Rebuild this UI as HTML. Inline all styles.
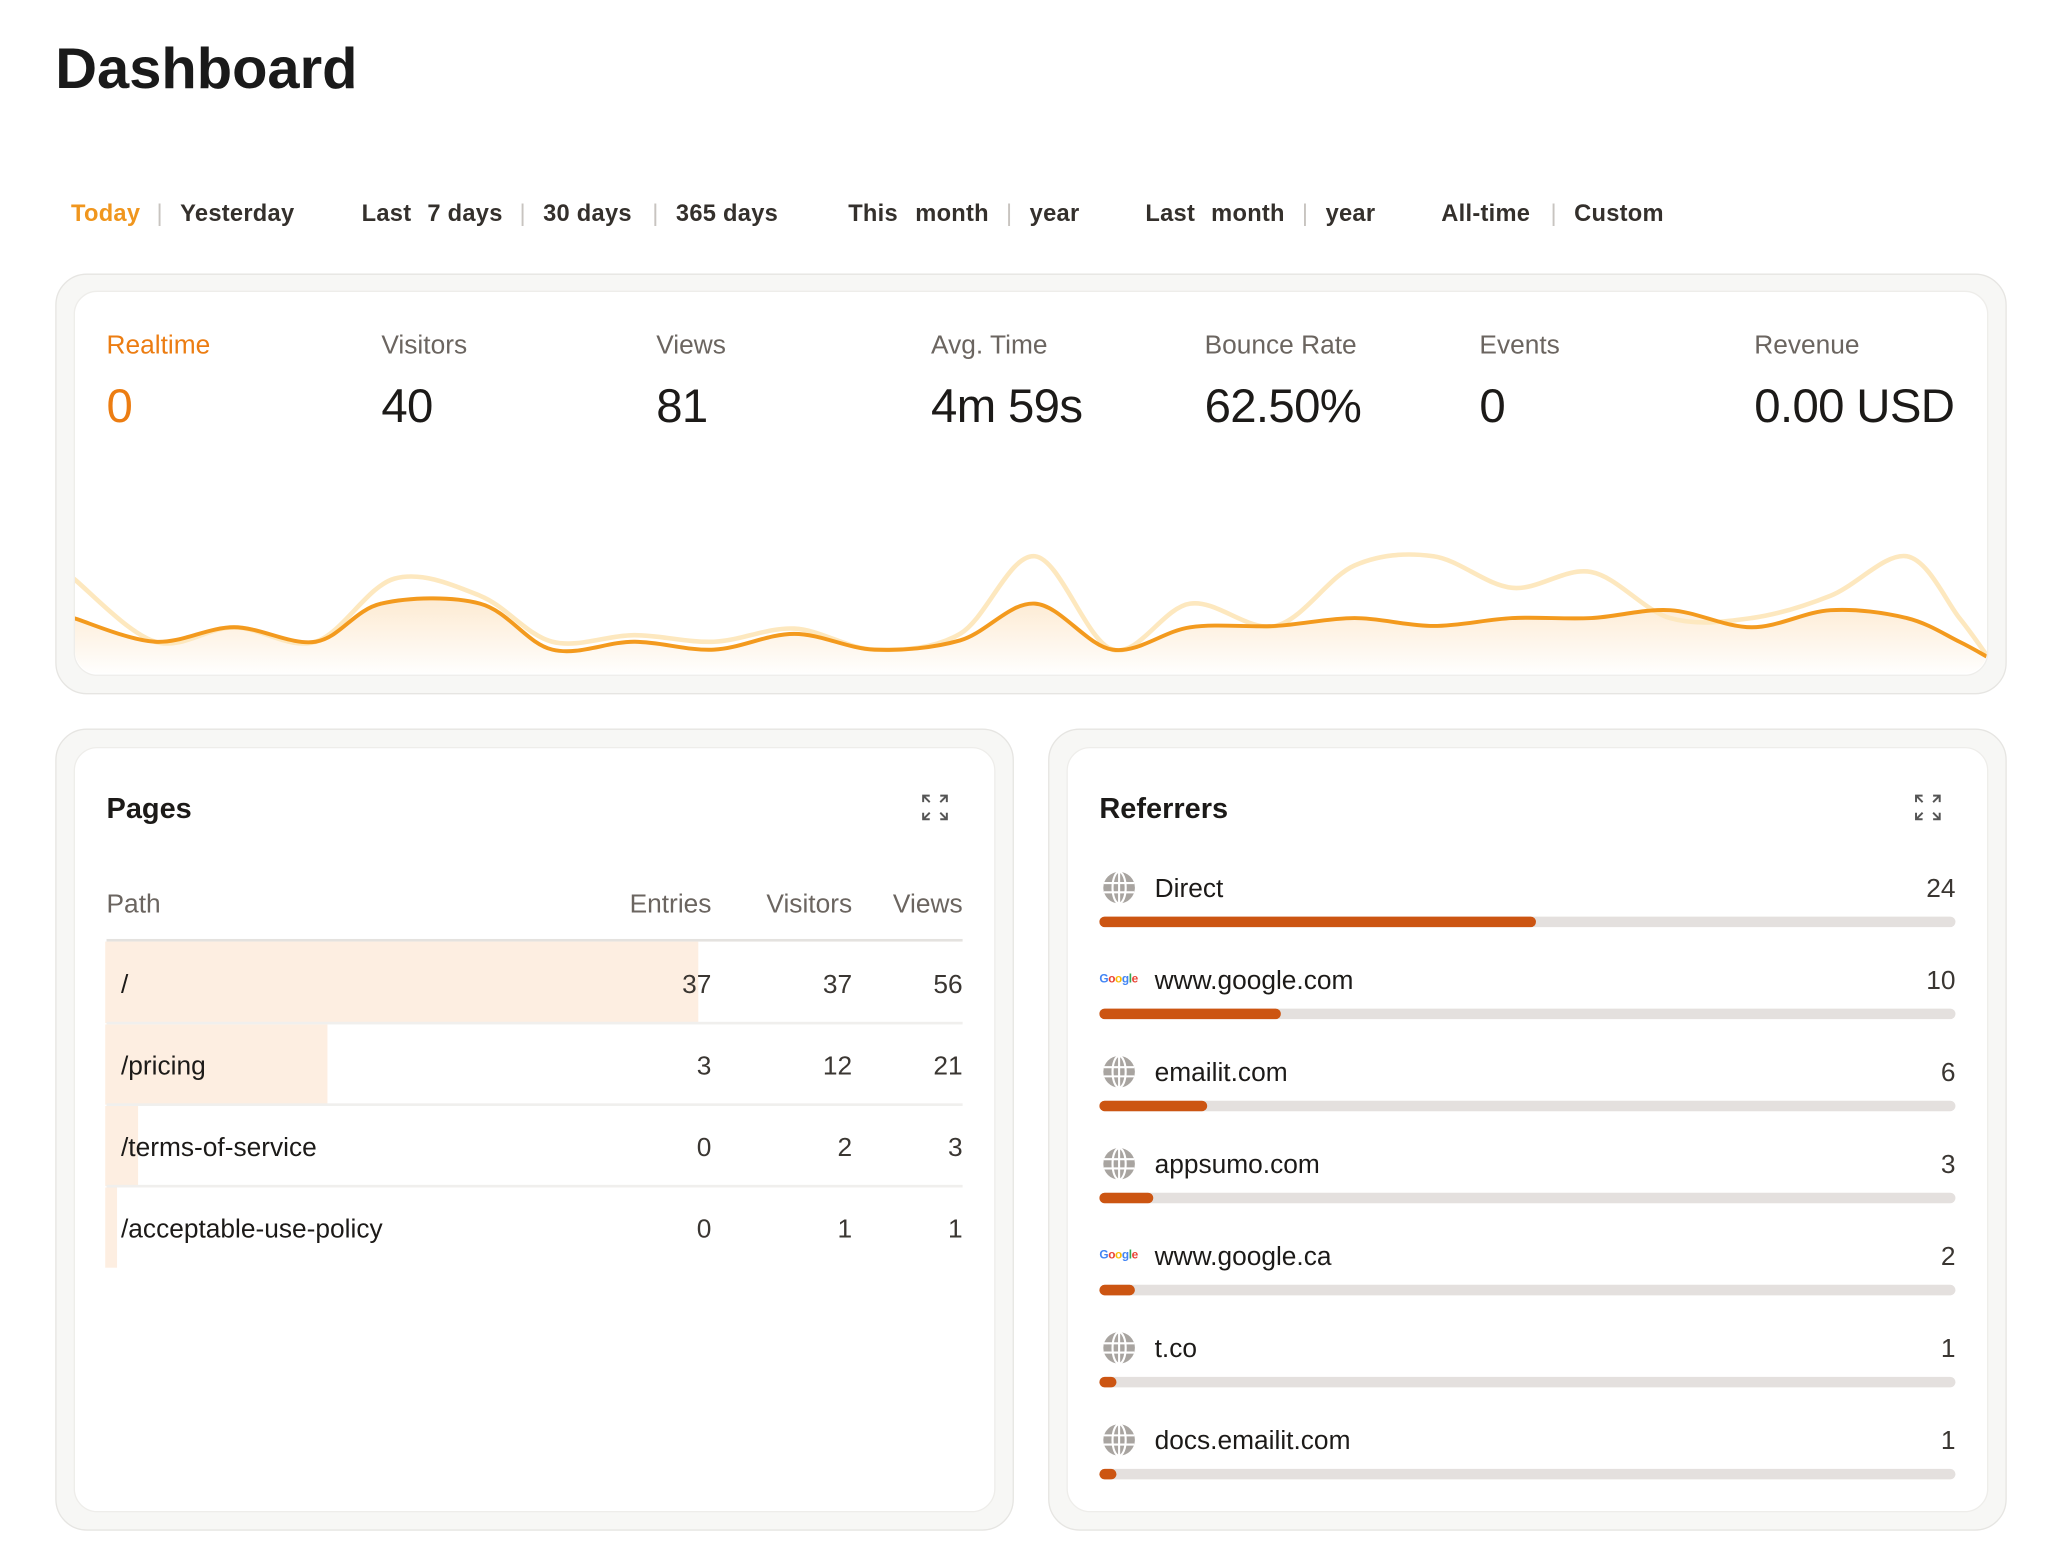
<!DOCTYPE html>
<html><head><meta charset="utf-8">
<style>
html,body{margin:0;padding:0;background:#fff;width:2062px;height:1564px;overflow:hidden}
#w{position:absolute;left:0;top:0;width:1568px;height:1190px;transform:scale(1.31505);transform-origin:0 0;font-family:"Liberation Sans",sans-serif;color:#1c1a18}
.a{position:absolute;white-space:nowrap}
.tab{position:absolute;top:152px;font-size:18px;font-weight:bold;color:#34302c;letter-spacing:0.2px}
.sep{color:#c8c4c0;font-weight:normal}
.outer{position:absolute;background:#f7f7f5;border:1.5px solid #e6e5e2;border-radius:24px}
.inner{position:absolute;background:#fff;border:1.5px solid #eeedea;border-radius:18px}
.lab{position:absolute;top:252px;font-size:20px;color:#6b6560}
.val{position:absolute;top:288px;font-size:36px;color:#1c1a18;letter-spacing:-0.5px}
.th{position:absolute;top:677px;font-size:20px;color:#6b6560}
.td{position:absolute;font-size:20px;color:#3a3632}
.tp{position:absolute;font-size:20px;color:#1c1a18;left:92px}
.rn{position:absolute;left:878px;font-size:20px;color:#1c1a18}
.rc{position:absolute;right:81px;font-size:20px;color:#3a3632}
.bar{position:absolute;left:836px;width:651px;height:8px;border-radius:4px;background:#e4e0de}
.bar i{position:absolute;left:0;top:0;height:8px;border-radius:4px;background:#cc5512}
.g{position:absolute;left:836px;font-size:9px;font-weight:bold;letter-spacing:-0.3px}
</style></head><body><div id="w">
<div class="a" style="left:42px;top:28px;font-size:44px;font-weight:bold;color:#1a1a1a">Dashboard</div>

<div class="tab" style="left:54px;color:#f0961e">Today</div>
<div class="tab sep" style="left:119px">|</div>
<div class="tab" style="left:137px">Yesterday</div>
<div class="tab" style="left:275px">Last</div>
<div class="tab" style="left:325px">7 days</div>
<div class="tab sep" style="left:395px">|</div>
<div class="tab" style="left:413px">30 days</div>
<div class="tab sep" style="left:496px">|</div>
<div class="tab" style="left:514px">365 days</div>
<div class="tab" style="left:645px">This</div>
<div class="tab" style="left:696px">month</div>
<div class="tab sep" style="left:765px">|</div>
<div class="tab" style="left:783px">year</div>
<div class="tab" style="left:871px">Last</div>
<div class="tab" style="left:921px">month</div>
<div class="tab sep" style="left:990px">|</div>
<div class="tab" style="left:1008px">year</div>
<div class="tab" style="left:1096px">All-time</div>
<div class="tab sep" style="left:1179px">|</div>
<div class="tab" style="left:1197px">Custom</div>

<div class="outer" style="left:42px;top:208px;width:1482px;height:318px"></div>
<div class="inner" style="left:56px;top:221px;width:1454px;height:291px"></div>
<svg id="ch" width="1568" height="1190" style="position:absolute;left:0;top:0" viewBox="0 0 1568 1190">
<defs><linearGradient id="gr" x1="0" y1="0" x2="0" y2="1"><stop offset="0" stop-color="#f5a030" stop-opacity="0.22"/><stop offset="1" stop-color="#f5a030" stop-opacity="0"/></linearGradient>
<clipPath id="cp"><rect x="57" y="222" width="1454" height="290" rx="17"/></clipPath></defs>
<g clip-path="url(#cp)">
<path id="fa" fill="url(#gr)" stroke="none"/>
<path id="lv" fill="none" stroke="#fde8bf" stroke-width="3.5"/>
<path id="dv" fill="none" stroke="#f39a1e" stroke-width="3"/>
</g>
</svg>

<div class="lab" style="left:81px;color:#ec7d12">Realtime</div>
<div class="lab" style="left:290px">Visitors</div>
<div class="lab" style="left:499px">Views</div>
<div class="lab" style="left:708px">Avg. Time</div>
<div class="lab" style="left:916px">Bounce Rate</div>
<div class="lab" style="left:1125px">Events</div>
<div class="lab" style="left:1334px">Revenue</div>
<div class="val" style="left:81px;color:#ec7d12">0</div>
<div class="val" style="left:290px">40</div>
<div class="val" style="left:499px">81</div>
<div class="val" style="left:708px">4m 59s</div>
<div class="val" style="left:916px">62.50%</div>
<div class="val" style="left:1125px">0</div>
<div class="val" style="left:1334px">0.00 USD</div>

<!-- Pages -->
<div class="outer" style="left:42px;top:554px;width:727px;height:608px"></div>
<div class="inner" style="left:56px;top:568px;width:699px;height:580px"></div>
<div class="a" style="left:81px;top:602px;font-size:22px;font-weight:bold">Pages</div>
<svg class="a" style="left:700px;top:603px" width="22" height="22" viewBox="0 0 22 22" fill="none" stroke="#555" stroke-width="1.5"><path d="M2 7V2h5M2 2l5 5M15 2h5v5M20 2l-5 5M2 15v5h5M2 20l5-5M20 15v5h-5M20 20l-5-5"/></svg>
<div class="th" style="left:81px">Path</div>
<div class="th" style="right:1027px">Entries</div>
<div class="th" style="right:920px">Visitors</div>
<div class="th" style="right:836px">Views</div>
<div class="a" style="left:81px;top:714px;width:651px;height:2px;background:#e4e2df"></div>
<div class="a" style="left:80px;top:716px;width:451px;height:62px;background:#fdeee1"></div>
<div class="a" style="left:80px;top:779px;width:169px;height:61px;background:#fdeee1"></div>
<div class="a" style="left:80px;top:841px;width:25px;height:61px;background:#fdeee1"></div>
<div class="a" style="left:80px;top:903px;width:9px;height:61px;background:#fdeee1"></div>
<div class="a" style="left:81px;top:777px;width:651px;height:1.5px;background:#f0efed"></div>
<div class="a" style="left:81px;top:839px;width:651px;height:1.5px;background:#f0efed"></div>
<div class="a" style="left:81px;top:901px;width:651px;height:1.5px;background:#f0efed"></div>
<div class="tp" style="top:738px">/</div>
<div class="tp" style="top:800px">/pricing</div>
<div class="tp" style="top:862px">/terms-of-service</div>
<div class="tp" style="top:924px">/acceptable-use-policy</div>
<div class="td" style="top:738px;right:1027px">37</div><div class="td" style="top:738px;right:920px">37</div><div class="td" style="top:738px;right:836px">56</div>
<div class="td" style="top:800px;right:1027px">3</div><div class="td" style="top:800px;right:920px">12</div><div class="td" style="top:800px;right:836px">21</div>
<div class="td" style="top:862px;right:1027px">0</div><div class="td" style="top:862px;right:920px">2</div><div class="td" style="top:862px;right:836px">3</div>
<div class="td" style="top:924px;right:1027px">0</div><div class="td" style="top:924px;right:920px">1</div><div class="td" style="top:924px;right:836px">1</div>

<!-- Referrers -->
<div class="outer" style="left:797px;top:554px;width:727px;height:608px"></div>
<div class="inner" style="left:811px;top:568px;width:699px;height:580px"></div>
<div class="a" style="left:836px;top:602px;font-size:22px;font-weight:bold">Referrers</div>
<svg class="a" style="left:1455px;top:603px" width="22" height="22" viewBox="0 0 22 22" fill="none" stroke="#555" stroke-width="1.5"><path d="M2 7V2h5M2 2l5 5M15 2h5v5M20 2l-5 5M2 15v5h5M2 20l5-5M20 15v5h-5M20 20l-5-5"/></svg>
<div id="refs"></div>
</div>
<script>
var refs=[["Direct",24,1168,0],["www.google.com",10,974,1],["emailit.com",6,918,0],["appsumo.com",3,877,0],["www.google.ca",2,863,1],["t.co",1,849,0],["docs.emailit.com",1,849,0]];
var h="";
refs.forEach(function(r,i){var y=i*70;
h+='<div class="rn" style="top:'+(665+y)+'px">'+r[0]+'</div><div class="rc" style="top:'+(665+y)+'px">'+r[1]+'</div>';
h+='<div class="bar" style="top:'+(697+y)+'px"><i style="width:'+(r[2]-836)+'px"></i></div>';
if(r[3]){h+='<div class="g" style="top:'+(669+y)+'px"><span style="color:#4285f4">G</span><span style="color:#ea4335">o</span><span style="color:#fbbc05">o</span><span style="color:#4285f4">g</span><span style="color:#34a853">l</span><span style="color:#ea4335">e</span></div>';}
else{h+='<svg class="a" style="left:838px;top:'+(662+y)+'px" width="26" height="26" viewBox="0 0 26 26"><circle cx="13" cy="13" r="12" fill="#a8a4a0"/><g fill="none" stroke="#fff" stroke-width="1.6"><ellipse cx="13" cy="13" rx="5" ry="12"/><path d="M13 1v24M1.5 9.5h23M1.5 16.5h23"/></g></svg>';}
});
document.getElementById("refs").innerHTML=h;
function sm(p){var d="M"+p[0][0]+","+p[0][1];for(var i=0;i<p.length-1;i++){var p0=p[i>0?i-1:0],p1=p[i],p2=p[i+1],p3=p[i+2<p.length?i+2:i+1];
var c1x=p1[0]+(p2[0]-p0[0])/6,c1y=p1[1]+(p2[1]-p0[1])/6,c2x=p2[0]-(p3[0]-p1[0])/6,c2y=p2[1]-(p3[1]-p1[1])/6;
d+=" C"+c1x.toFixed(1)+","+c1y.toFixed(1)+" "+c2x.toFixed(1)+","+c2y.toFixed(1)+" "+p2[0]+","+p2[1];}return d;}
var dk=[[56,470],[118,488],[178,477],[240,488],[290,459],[365,459],[420,494],[482,488],[543,494],[604,482],[665,494],[730,487],[787,459],[846,494],[905,477],[970,476],[1030,470],[1090,476],[1150,470],[1210,470],[1270,464],[1332,477],[1392,464],[1450,470],[1490,488],[1512,500]];
var lt=[[56,440],[118,488],[178,477],[240,488],[300,440],[365,453],[420,488],[482,483],[543,488],[604,478],[665,494],[730,482],[787,423],[846,494],[905,459],[970,476],[1030,430],[1090,423],[1150,447],[1210,435],[1270,470],[1332,470],[1392,453],[1450,423],[1490,470],[1512,500]];
var dd=sm(dk);
document.getElementById("dv").setAttribute("d",dd);
document.getElementById("lv").setAttribute("d",sm(lt));
document.getElementById("fa").setAttribute("d",dd+" L1512,514 L56,514 Z");
</script>
</body></html>
